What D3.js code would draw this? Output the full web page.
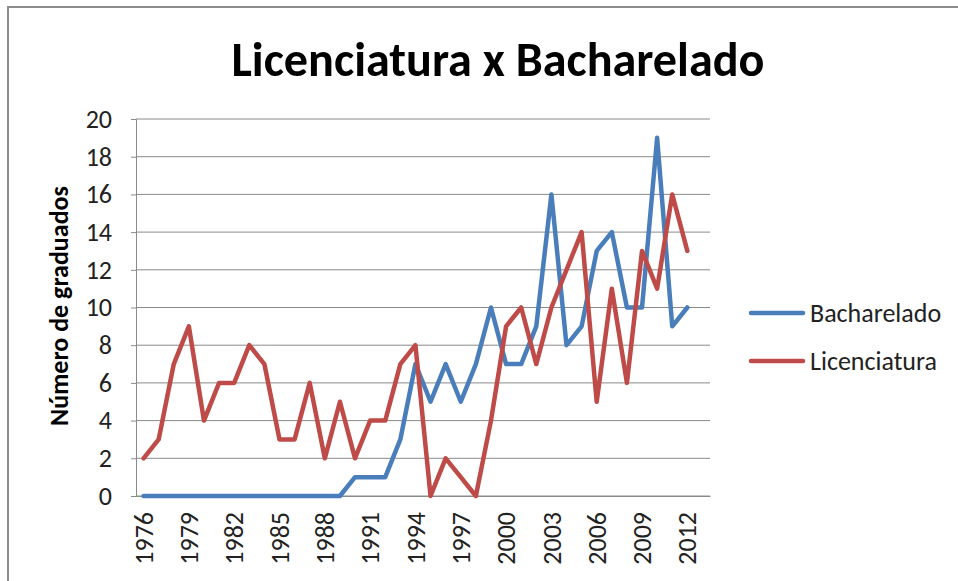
<!DOCTYPE html>
<html>
<head>
<meta charset="utf-8">
<script src="https://cdn.jsdelivr.net/npm/d3@7.9.0/dist/d3.min.js"></script>
<style>
  body { margin: 0; background: #fff; }
  svg { display: block; font-family: Carlito, Lato, "Open Sans", sans-serif; }
</style>
</head>
<body>
<div id="chart"></div>
<script>
// years on the category axis (2013 slot is empty in the source sheet)
const years = d3.range(1976, 2014);
const bacharelado = [0,0,0,0,0,0,0,0,0,0,0,0,0,0,1,1,1,3,7,5,7,5,7,10,7,7,9,16,8,9,13,14,10,10,19,9,10,null];
const licenciatura = [2,3,7,9,4,6,6,8,7,3,3,6,2,5,2,4,4,7,8,0,2,1,0,4,9,10,7,10,12,14,5,11,6,13,11,16,13,null];
const yTicks = [0,2,4,6,8,10,12,14,16,18,20];
const labelYears = years.filter((y, i) => i % 3 === 0 && y <= 2012);

const series = [
  { name: "Bacharelado", color: "#4a7ebb", values: bacharelado },
  { name: "Licenciatura", color: "#be4b48", values: licenciatura }
];

const width = 958, height = 581;
const margin = { top: 119, right: 248, bottom: 85, left: 136 };
const font = "Carlito, Lato, sans-serif";

const svg = d3.select("#chart").append("svg")
  .attr("width", width)
  .attr("height", height);

// chart frame
svg.append("rect")
  .attr("x", 8).attr("y", 7)
  .attr("width", 980).attr("height", 600)
  .attr("fill", "none")
  .attr("stroke", "#8c8c8c")
  .attr("stroke-width", 2);

const x = d3.scaleBand()
  .domain(years)
  .range([margin.left, width - margin.right]);

const y = d3.scaleLinear()
  .domain([0, 20])
  .range([height - margin.bottom, margin.top]);

// gridlines
svg.append("g")
  .selectAll("line")
  .data(yTicks)
  .join("line")
  .attr("x1", margin.left)
  .attr("x2", width - margin.right)
  .attr("y1", d => y(d))
  .attr("y2", d => y(d))
  .attr("stroke", "#8a8a8a")
  .attr("stroke-width", 1);

// y axis
const yAxis = svg.append("g")
  .attr("transform", `translate(${margin.left},0)`)
  .call(d3.axisLeft(y).tickValues(yTicks).tickSize(5).tickPadding(19));
yAxis.select(".domain").attr("stroke", "#8a8a8a");
yAxis.selectAll(".tick line").attr("stroke", "#8a8a8a");
yAxis.selectAll("text")
  .attr("fill", "#222")
  .style("font-size", "26px")
  .style("font-family", font);

// x axis
const xAxis = svg.append("g")
  .attr("transform", `translate(0,${height - margin.bottom})`)
  .call(d3.axisBottom(x).tickValues(labelYears).tickSize(0).tickPadding(0));
xAxis.select(".domain").attr("stroke", "#8a8a8a");
xAxis.selectAll("text")
  .attr("fill", "#222")
  .attr("transform", "rotate(-90)")
  .attr("text-anchor", "end")
  .attr("x", -16)
  .attr("y", 0)
  .attr("dy", "0.35em")
  .style("font-size", "26px")
  .style("font-family", font);

// lines
const line = d3.line()
  .defined(d => d.v != null)
  .x(d => x(d.year) + x.bandwidth() / 2)
  .y(d => y(d.v));

svg.append("g")
  .selectAll("path")
  .data(series)
  .join("path")
  .attr("d", s => line(years.map((yr, i) => ({ year: yr, v: s.values[i] }))))
  .attr("fill", "none")
  .attr("stroke", s => s.color)
  .attr("stroke-width", 4.5)
  .attr("stroke-linejoin", "round")
  .attr("stroke-linecap", "round");

// title, scaled to the reference width
const title = svg.append("text")
  .attr("x", 498)
  .attr("y", 76)
  .attr("text-anchor", "middle")
  .style("font-size", "40px")
  .style("font-weight", "bold")
  .attr("fill", "#000")
  .text("Licenciatura x Bacharelado");
const tw = title.node().getComputedTextLength();
title.style("font-size", (40 * 533 / tw).toFixed(1) + "px");

// y axis title
svg.append("text")
  .attr("transform", "translate(68,306) rotate(-90)")
  .attr("text-anchor", "middle")
  .style("font-size", "26px")
  .style("font-weight", "bold")
  .attr("fill", "#000")
  .text("Número de graduados");

// legend
const legend = svg.append("g")
  .selectAll("g")
  .data(series)
  .join("g")
  .attr("transform", (d, i) => `translate(751,${313 + i * 48})`);

legend.append("line")
  .attr("x1", 0).attr("x2", 52)
  .attr("stroke", d => d.color)
  .attr("stroke-width", 4.5)
  .attr("stroke-linecap", "round");

legend.append("text")
  .attr("x", 59)
  .attr("dy", "0.35em")
  .style("font-size", "26px")
  .attr("fill", "#222")
  .text(d => d.name);
</script>
</body>
</html>
